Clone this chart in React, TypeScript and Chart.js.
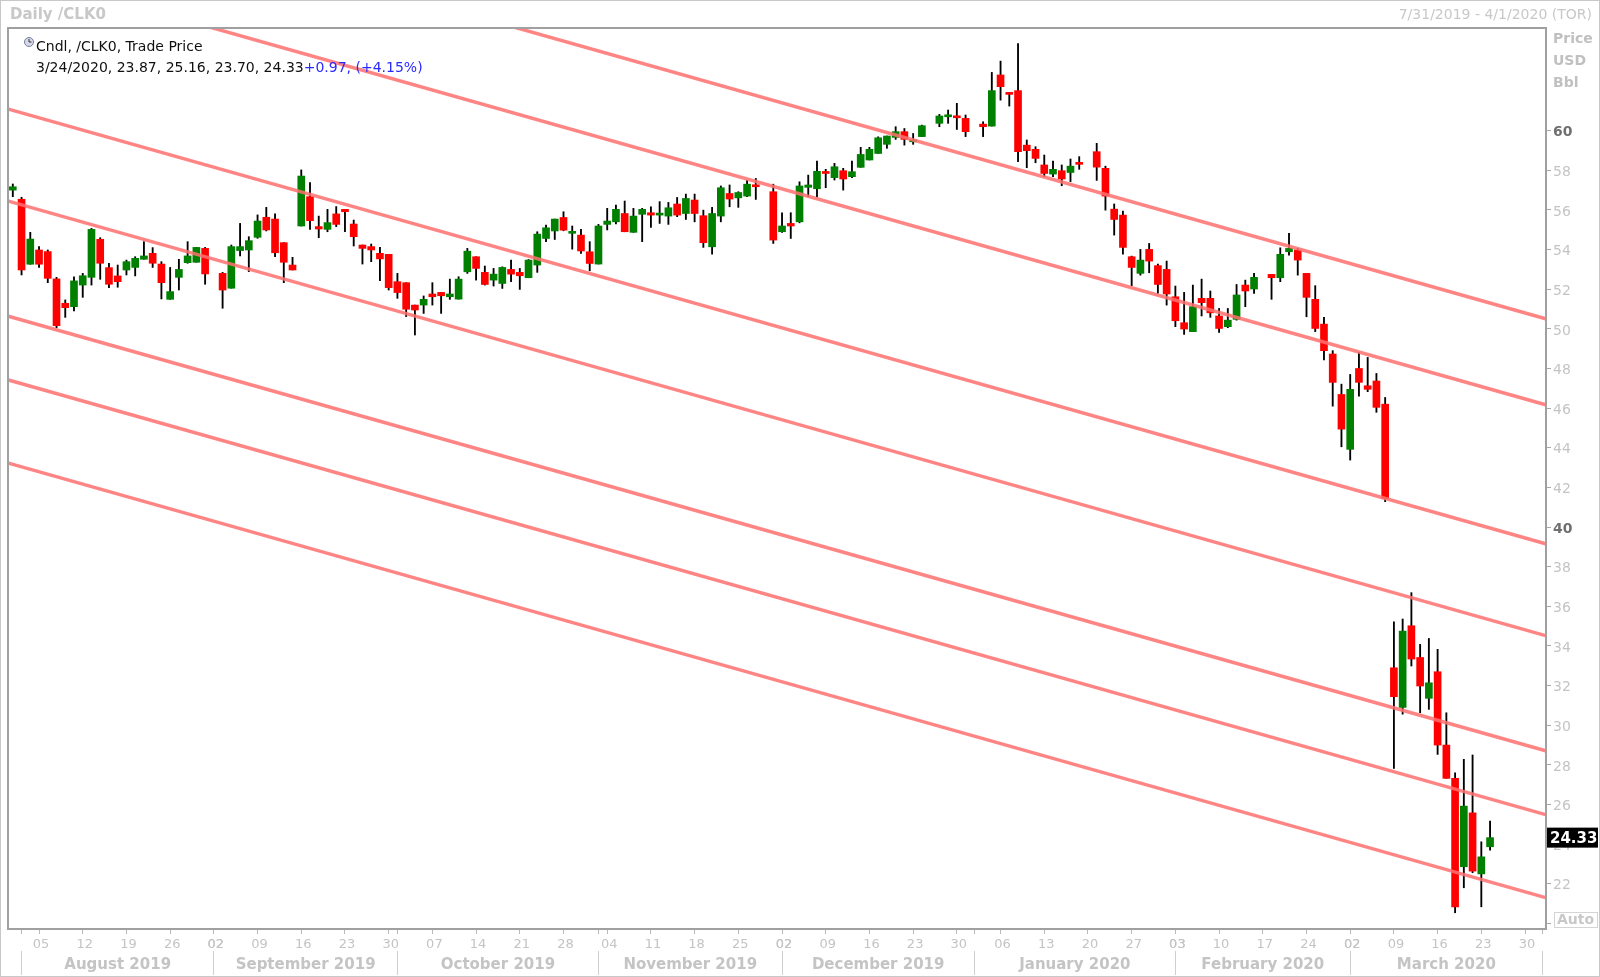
import React, { useEffect, useRef } from 'react';
import { Chart, registerables } from 'chart.js';

Chart.register(...registerables);

// ---- data ---------------------------------------------------------------
const chartTitle = 'Daily /CLK0';
const rangeLabel = '7/31/2019 - 4/1/2020 (TOR)';
const legendLine1 = 'Cndl, /CLK0, Trade Price';
const legendLine2 = '3/24/2020, 23.87, 25.16, 23.70, 24.33';
const legendChange = '+0.97, (+4.15%)';
const axisUnits = ['Price', 'USD', 'Bbl'];

// Weekday index 0 = Wed 7/31/2019 ... 169 = Tue 3/24/2020; null = no session (holiday)
const opens: (number | null)[] = [
  57.0, 56.54, 53.26, 53.98, 53.9, 52.52, 51.29, 51.12, 52.21, 52.6,
  54.52, 53.09, 52.67, 52.97, 53.1, 53.51, 53.81, 53.27, 51.49, 52.6,
  53.34, 53.36, 54.06, null, 52.8, 52.05, 53.95, 53.98, 54.62, 55.63,
  55.54, 54.35, 53.22, 55.19, 56.67, 55.16, 55.02, 55.8, 56.03, 55.29,
  54.23, 54.15, 53.81, 53.76, 52.38, 52.33, 51.2, 51.2, 51.76, 51.84,
  51.62, 51.5, 52.88, 53.64, 52.85, 52.46, 52.29, 53.0, 52.85, 52.58,
  53.22, 54.56, 54.94, 55.62, 54.82, 54.73, 53.89, 53.27, 55.27, 55.4,
  55.82, 54.87, 55.78, 55.86, 55.74, 55.69, 56.3, 55.82, 56.5, 55.71,
  54.14, 55.69, 56.83, 56.61, 56.7, 57.22, null, 56.92, 54.9, 55.32,
  55.4, 57.14, 57.07, 57.93, 57.63, 57.98, 57.68, 58.15, 58.52, 58.85,
  59.31, 59.66, 59.95, 59.44, 59.7, null, 60.37, 60.7, 60.7, 60.62,
  null, 60.33, 60.23, 62.81, 61.93, 62.02, 59.27, 59.06, 58.27, 57.81,
  57.98, 57.89, 58.4, null, 58.94, 58.1, 56.04, 55.74, 53.64, 52.8,
  54.01, 53.19, 53.0, 51.62, 50.31, 49.86, 51.54, 51.54, 50.65, 50.11,
  50.48, 52.21, 52.01, null, 52.75, 52.58, 53.89, 53.98, 52.8, 51.49,
  50.24, 48.73, 46.69, 43.92, 48.0, 47.13, 47.37, 46.2, 32.9, 30.9,
  35.02, 33.42, 31.36, 32.7, 29.0, 27.32, 22.86, 25.58, 22.5, 23.87,
];
const highs: (number | null)[] = [
  57.31, 56.64, 54.87, 54.15, 53.98, 52.6, 51.46, 52.63, 52.8, 55.07,
  54.6, 53.31, 53.22, 53.47, 53.64, 54.4, 54.1, 53.39, 53.1, 53.51,
  54.4, 54.11, 54.11, null, 52.85, 54.23, 55.32, 54.65, 55.75, 56.13,
  55.8, 54.35, 53.61, 58.02, 57.38, 55.69, 56.03, 56.17, 56.03, 55.49,
  54.23, 54.28, 54.11, 53.76, 52.8, 52.33, 51.2, 51.66, 52.33, 51.84,
  52.51, 52.63, 54.06, 53.64, 53.17, 53.05, 53.13, 53.47, 53.05, 53.5,
  54.9, 55.24, 55.54, 55.91, 55.19, 55.02, 54.4, 55.27, 56.08, 56.25,
  56.45, 56.08, 56.08, 56.16, 56.42, 56.38, 56.63, 56.8, 56.8, 55.99,
  56.13, 57.21, 57.26, 56.92, 57.5, 57.59, null, 57.3, 55.86, 55.86,
  57.42, 57.76, 58.47, 58.05, 58.35, 58.1, 58.47, 59.16, 59.16, 59.69,
  59.73, 60.2, 60.11, 59.86, 60.28, null, 60.82, 61.04, 61.38, 60.79,
  null, 60.45, 62.94, 63.51, 61.93, 64.4, 59.53, 59.19, 58.77, 58.47,
  58.27, 58.57, 58.69, null, 59.36, 58.21, 56.3, 55.94, 53.67, 54.01,
  54.31, 53.27, 53.42, 52.16, 51.84, 52.21, 52.51, 51.91, 51.03, 51.03,
  52.24, 52.46, 52.8, null, 52.75, 54.09, 54.82, 54.06, 52.8, 52.18,
  50.58, 48.9, 47.21, 47.7, 48.8, 48.56, 47.75, 46.54, 35.22, 35.36,
  36.69, 34.08, 34.38, 33.83, 30.63, 27.6, 28.28, 28.5, 24.12, 25.16,
];
const lows: (number | null)[] = [
  56.67, 52.72, 53.26, 53.1, 52.33, 50.06, 50.58, 50.9, 51.59, 52.21,
  52.5, 52.08, 52.1, 52.72, 52.67, 53.51, 53.1, 51.51, 51.49, 51.96,
  53.31, 53.36, 52.25, null, 51.04, 52.05, 53.68, 52.89, 54.57, 54.94,
  53.64, 52.33, 52.97, 55.19, 55.02, 54.6, 54.9, 55.16, 54.9, 54.18,
  53.27, 53.39, 52.43, 51.96, 51.54, 50.62, 49.69, 50.78, 51.2, 50.78,
  51.49, 51.5, 52.8, 52.46, 52.21, 52.16, 52.04, 52.38, 51.99, 52.58,
  52.85, 54.4, 54.51, 54.95, 54.02, 53.81, 52.93, 53.27, 54.99, 55.29,
  54.9, 54.87, 54.4, 55.12, 55.32, 55.27, 55.66, 55.52, 55.4, 54.11,
  53.77, 55.4, 56.16, 56.13, 56.67, 56.53, null, 54.31, 54.87, 54.56,
  55.35, 56.67, 56.65, 57.12, 57.51, 57.0, 57.63, 58.15, 58.52, 58.85,
  59.11, 59.56, 59.27, 59.31, 59.7, null, 60.2, 60.37, 60.06, 59.7,
  null, 59.7, 60.23, 61.54, 61.24, 58.43, 58.13, 58.38, 57.68, 57.68,
  57.22, 57.43, 58.05, null, 57.49, 55.99, 54.73, 53.77, 52.18, 52.71,
  52.83, 51.79, 51.2, 50.11, 49.72, 49.86, 50.65, 50.58, 49.82, 50.06,
  50.44, 51.12, 51.79, null, 51.49, 52.38, 53.72, 52.71, 50.61, 49.86,
  48.43, 46.1, 44.05, 43.38, 46.61, 46.83, 45.79, 41.28, 27.82, 30.56,
  32.99, 30.63, 30.8, 28.53, 27.32, 20.54, 21.8, 22.56, 20.84, 23.7,
];
const closes: (number | null)[] = [
  57.17, 52.97, 54.53, 53.26, 52.55, 50.16, 51.07, 52.42, 52.68, 55.02,
  53.31, 52.25, 52.38, 53.39, 53.56, 53.68, 53.31, 52.33, 51.88, 53.0,
  53.68, 54.11, 52.77, null, 51.96, 54.15, 54.15, 54.45, 55.44, 54.99,
  53.84, 53.36, 52.97, 57.71, 55.46, 55.04, 55.36, 55.27, 55.91, 54.65,
  54.06, 53.98, 53.53, 52.08, 51.83, 50.99, 50.95, 51.49, 51.62, 51.67,
  51.76, 52.51, 53.92, 53.05, 52.24, 52.76, 53.1, 52.76, 52.68, 53.47,
  54.78, 55.1, 55.54, 54.98, 54.9, 53.93, 53.3, 55.19, 55.44, 56.03,
  54.9, 55.69, 56.03, 55.74, 55.82, 56.11, 55.74, 56.58, 55.82, 54.35,
  55.82, 57.12, 56.55, 56.88, 57.3, 57.17, null, 54.48, 55.19, 55.19,
  57.21, 57.26, 57.95, 57.84, 58.18, 57.56, 57.93, 58.8, 59.06, 59.64,
  59.73, 59.95, 59.56, 59.53, 60.25, null, 60.74, 60.79, 60.65, 59.95,
  null, 60.2, 62.02, 62.22, 61.83, 58.94, 58.99, 58.6, 57.84, 58.05,
  57.56, 58.21, 58.3, null, 58.16, 56.7, 55.52, 54.11, 53.1, 53.47,
  53.42, 52.24, 51.76, 50.41, 49.99, 51.12, 51.32, 50.81, 50.02, 50.44,
  51.71, 51.91, 52.6, null, 52.58, 53.76, 54.06, 53.47, 51.59, 50.02,
  48.9, 47.3, 44.94, 46.95, 47.3, 46.95, 46.04, 41.44, 31.44, 34.75,
  33.34, 31.98, 32.14, 29.0, 27.32, 20.84, 25.92, 22.64, 23.36, 24.33,
];

// Monday ticks (weekday index) and their labels
const dayTickIndex = [
  3, 8, 13, 18, 23, 28, 33, 38, 43, 48, 53, 58, 63, 68, 73, 78, 83, 88,
  93, 98, 103, 108, 113, 118, 123, 128, 133, 138, 143, 148, 153, 158, 163, 168, 173,
];
const dayTickLabels = [
  '05', '12', '19', '26', '02', '09', '16', '23', '30', '07', '14', '21', '28',
  '04', '11', '18', '25', '02', '09', '16', '23', '30', '06', '13', '20', '27',
  '03', '10', '17', '24', '02', '09', '16', '23', '30',
];
// first session of each month (weekday index); last entry = 4/1/2020
const monthStartIndex = [1, 23, 44, 67, 88, 110, 133, 153, 175];
const monthLabels = [
  'August 2019', 'September 2019', 'October 2019', 'November 2019',
  'December 2019', 'January 2020', 'February 2020', 'March 2020',
];
const priceTickValues = [
  20, 22, 24, 26, 28, 30, 32, 34, 36, 38, 40, 42, 44, 46, 48, 50, 52, 54, 56, 58, 60,
];
const boldPriceTicks = [40, 60];

// parallel channel lines: price at weekday index -1 and at index 176
const channelIndexStart = -1;
const channelIndexEnd = 176;
const channelPriceStart = [43.29, 47.48, 50.7, 56.51, 61.15, 68.16, 72.5];
const channelPriceEnd = [21.22, 25.41, 28.63, 34.44, 39.08, 46.09, 50.43];

// ---- chart --------------------------------------------------------------
const FONT = "'DejaVu Sans', Tahoma, Verdana, sans-serif";
const GREY = '#c4c4c4';

export default function App() {
  const ref = useRef<HTMLCanvasElement | null>(null);

  useEffect(() => {
    document.body.style.margin = '0';
    const canvas = ref.current;
    if (!canvas) return;

    const wicks: any[] = [];
    const ups: any[] = [];
    const downs: any[] = [];
    opens.forEach((o, i) => {
      const h = highs[i], l = lows[i], c = closes[i];
      if (o == null || h == null || l == null || c == null) return;
      wicks.push({ x: i, y: [l, h] });
      if (c >= o) ups.push({ x: i, y: [o, c] });
      else downs.push({ x: i, y: [c, o] });
    });

    const lastClose = closes[closes.length - 1] as number;

    const channelSets = channelPriceStart.map((s, k) => ({
      type: 'line' as const,
      data: [
        { x: channelIndexStart, y: s },
        { x: channelIndexEnd, y: channelPriceEnd[k] },
      ],
      borderColor: 'rgba(255,112,112,0.85)',
      borderWidth: 3.5,
      pointRadius: 0,
      order: 0,
    }));

    const monthCenters = monthLabels.map(
      (_, k) => (monthStartIndex[k] + monthStartIndex[k + 1]) / 2,
    );
    const dayMap = new Map<number, string>();
    dayTickIndex.forEach((v, k) => dayMap.set(v, dayTickLabels[k]));
    const monthMap = new Map<number, string>();
    monthCenters.forEach((v, k) => monthMap.set(v, monthLabels[k]));

    const decor = {
      id: 'decor',
      beforeDraw(chart: any) {
        const { ctx, width, height } = chart;
        ctx.save();
        ctx.fillStyle = '#ffffff';
        ctx.fillRect(0, 0, width, height);
        ctx.restore();
      },
      afterDraw(chart: any) {
        const { ctx, chartArea: a, scales, width, height } = chart;
        ctx.save();
        // plot frame
        ctx.strokeStyle = '#a0a0a0';
        ctx.lineWidth = 2;
        ctx.strokeRect(a.left, a.top, a.right - a.left, a.bottom - a.top);
        // outer frame
        ctx.strokeStyle = '#c8c8c8';
        ctx.lineWidth = 1;
        ctx.strokeRect(0.5, 0.5, width - 1, height - 1);

        // header
        ctx.textBaseline = 'middle';
        ctx.fillStyle = '#c8c8c8';
        ctx.font = `bold 15px ${FONT}`;
        ctx.textAlign = 'left';
        ctx.fillText(chartTitle, 10, 15);
        ctx.font = `14px ${FONT}`;
        ctx.textAlign = 'right';
        ctx.fillText(rangeLabel, width - 8, 15);

        // units
        ctx.textAlign = 'left';
        ctx.font = `bold 14px ${FONT}`;
        ctx.fillStyle = '#c0c0c0';
        axisUnits.forEach((t, k) => ctx.fillText(t, a.right + 7, 39 + k * 22));

        // legend icon
        ctx.beginPath();
        ctx.arc(29, 42, 4.5, 0, Math.PI * 2);
        ctx.fillStyle = '#d8d8e8';
        ctx.fill();
        ctx.strokeStyle = '#7080a0';
        ctx.lineWidth = 1;
        ctx.stroke();
        ctx.beginPath();
        ctx.moveTo(29, 42);
        ctx.lineTo(29, 39);
        ctx.moveTo(29, 42);
        ctx.lineTo(31.5, 42);
        ctx.strokeStyle = '#303030';
        ctx.stroke();

        // legend text
        ctx.font = `14px ${FONT}`;
        ctx.fillStyle = '#101010';
        ctx.fillText(legendLine1, 36, 47);
        ctx.fillText(legendLine2, 36, 68);
        const w2 = ctx.measureText(legendLine2).width;
        ctx.fillStyle = '#2a2aff';
        ctx.fillText(legendChange, 36 + w2, 68);

        // last price box
        const y = scales.y.getPixelForValue(lastClose);
        ctx.fillStyle = '#000000';
        ctx.fillRect(a.right + 1, y - 10, width - a.right - 3, 20);
        ctx.fillStyle = '#ffffff';
        ctx.font = `bold 15px ${FONT}`;
        ctx.textAlign = 'left';
        ctx.fillText(lastClose.toFixed(2), a.right + 4, y + 1);

        // Auto box
        ctx.fillStyle = '#ffffff';
        ctx.fillRect(a.right + 8, a.bottom - 17, 44, 16);
        ctx.strokeStyle = '#d4d4d4';
        ctx.strokeRect(a.right + 8.5, a.bottom - 16.5, 43, 15);
        ctx.fillStyle = '#c8c8c8';
        ctx.font = `bold 14px ${FONT}`;
        ctx.fillText('Auto', a.right + 11, a.bottom - 8.5);
        ctx.restore();
      },
    };

    const chart = new Chart(canvas, {
      type: 'bar',
      data: {
        datasets: [
          ...channelSets,
          {
            type: 'bar',
            data: ups,
            backgroundColor: '#008000',
            barThickness: 7,
            minBarLength: 2,
            grouped: false,
            order: 1,
          } as any,
          {
            type: 'bar',
            data: downs,
            backgroundColor: '#ff0000',
            barThickness: 7,
            minBarLength: 2,
            grouped: false,
            order: 1,
          } as any,
          {
            type: 'bar',
            data: wicks,
            backgroundColor: '#000000',
            barThickness: 1.2,
            grouped: false,
            order: 2,
          } as any,
        ],
      },
      options: {
        responsive: false,
        animation: false,
        devicePixelRatio: 1,
        layout: { padding: { left: 8, top: 28, right: 0, bottom: 0 } },
        plugins: { legend: { display: false }, tooltip: { enabled: false } },
        scales: {
          x: {
            type: 'linear',
            position: 'bottom',
            min: -0.55,
            max: 175.4,
            offset: false,
            weight: 0,
            border: { display: false },
            grid: {
              offset: false,
              drawOnChartArea: false,
              drawTicks: true,
              tickLength: 5,
              color: '#b8b8b8',
            },
            ticks: {
              autoSkip: false,
              maxRotation: 0,
              minRotation: 0,
              padding: 3,
              labelOffset: 2,
              color: GREY,
              font: { family: FONT, size: 13 },
              callback: (v: any) => dayMap.get(Number(v)) ?? '',
            },
            afterBuildTicks: (s: any) => {
              s.ticks = [...dayTickIndex, ...monthStartIndex]
                .sort((p, q) => p - q)
                .map((v) => ({ value: v }));
            },
            afterFit: (s: any) => {
              s.height = 22;
            },
          },
          x2: {
            type: 'linear',
            position: 'bottom',
            min: -0.55,
            max: 175.4,
            offset: false,
            weight: 1,
            border: { display: false },
            grid: {
              offset: false,
              drawOnChartArea: false,
              drawTicks: true,
              tickLength: 24,
              color: (c: any) =>
                c.tick && monthStartIndex.includes(c.tick.value) ? '#cfcfcf' : 'rgba(0,0,0,0)',
            },
            ticks: {
              autoSkip: false,
              maxRotation: 0,
              minRotation: 0,
              padding: -19,
              color: GREY,
              font: { family: FONT, size: 15, weight: 'bold' },
              callback: (v: any) => monthMap.get(Number(v)) ?? '',
            },
            afterBuildTicks: (s: any) => {
              s.ticks = [...monthStartIndex, ...monthCenters]
                .sort((p, q) => p - q)
                .map((v) => ({ value: v }));
            },
            afterFit: (s: any) => {
              s.height = 26;
            },
          },
          y: {
            type: 'linear',
            position: 'right',
            min: 19.72,
            max: 65.18,
            border: { display: false },
            grid: {
              offset: false,
              drawOnChartArea: false,
              drawTicks: true,
              tickLength: 5,
              color: '#a8a8a8',
            },
            ticks: {
              padding: 2,
              labelOffset: 2,
              color: (c: any) =>
                c.tick && boldPriceTicks.includes(c.tick.value) ? '#707070' : GREY,
              font: (c: any) => ({
                family: FONT,
                size: 14,
                weight: c.tick && boldPriceTicks.includes(c.tick.value) ? 'bold' : 'normal',
              }),
              callback: (v: any) => (Number(v) === 20 ? '' : String(v)),
            },
            afterBuildTicks: (s: any) => {
              s.ticks = priceTickValues.map((v) => ({ value: v }));
            },
            afterFit: (s: any) => {
              s.width = 54;
            },
          },
        },
      } as any,
      plugins: [decor],
    });

    return () => chart.destroy();
  }, []);

  return (
    <div style={{ width: 1600, height: 977, position: 'relative' }}>
      <canvas ref={ref} width={1600} height={977} style={{ display: 'block' }} />
    </div>
  );
}
